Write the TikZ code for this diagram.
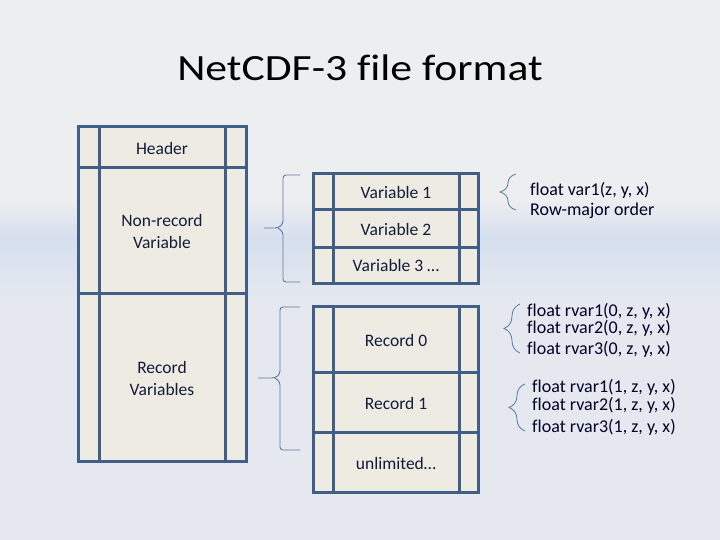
\documentclass[tikz,border=0pt]{standalone}
\usepackage{fontspec}
\setmainfont{Carlito}[Ligatures=NoCommon]
\newfontfamily\titlefont{Carlito}[FakeStretch=1.18, Ligatures=NoCommon]
\usetikzlibrary{decorations.pathreplacing}
\definecolor{bgA}{RGB}{237,238,240}
\definecolor{bgB}{RGB}{214,223,238}
\definecolor{bgC}{RGB}{229,233,239}
\definecolor{boxline}{RGB}{64,94,134}
\definecolor{boxfill}{RGB}{238,236,226}
\definecolor{txt}{RGB}{18,28,58}
\definecolor{bracec}{RGB}{92,122,162}
\tikzset{
  frame/.style={draw=boxline, line width=3pt, fill=boxfill},
  sep/.style={draw=boxline, line width=3pt},
  lbl/.style={text=txt, font=\fontsize{17.5}{22}\selectfont, align=center, inner sep=0pt},
  note/.style={text=black!85!blue, font=\fontsize{18}{21}\selectfont, anchor=west, inner sep=0pt},
  bigbrace/.style={draw=bracec, line width=0.9pt, rounded corners=3pt},
  smallbrace/.style={draw=bracec, line width=0.8pt, decorate, decoration={brace, amplitude=16pt, raise=0pt}},
}
\begin{document}
\begin{tikzpicture}[x=1pt,y=-1pt]
\useasboundingbox (0,0) rectangle (720,540);
% background
\fill[bgA] (0,0) rectangle (720,200);
\shade[top color=bgA, bottom color=bgB] (0,200) rectangle (720,238);
\shade[top color=bgB, bottom color=bgC] (0,238) rectangle (720,300);
\fill[bgC] (0,300) rectangle (720,540);
% title
\node[font=\titlefont\fontsize{37}{40}\selectfont, text=black, inner sep=0pt] (title) at (360,68) {NetCDF-3 file format};
% left box
\path[frame] (78,127) rectangle (246,461);
\draw[sep] (99,127) -- (99,461);
\draw[sep] (225,127) -- (225,461);
\draw[sep] (78,168) -- (246,168);
\draw[sep] (78,293) -- (246,293);
\node[lbl] (header) at (162,148) {Header};
\node[lbl] (nonrec) at (162,231) {Non-record\\Variable};
\node[lbl] (recvars) at (162,378) {Record\\Variables};
% variable box
\path[frame] (313,174) rectangle (478,283);
\draw[sep] (333,174) -- (333,283);
\draw[sep] (459,174) -- (459,283);
\draw[sep] (313,210) -- (478,210);
\draw[sep] (313,247) -- (478,247);
\node[lbl] (v1) at (396,192) {Variable 1};
\node[lbl] (v2) at (396,229) {Variable 2};
\node[lbl] (v3) at (396,265) {Variable 3 \ldots};
% record box
\path[frame] (313,306) rectangle (478,492);
\draw[sep] (333,306) -- (333,492);
\draw[sep] (459,306) -- (459,492);
\draw[sep] (313,372) -- (478,372);
\draw[sep] (313,432) -- (478,432);
\node[lbl] (r0) at (396,340) {Record 0};
\node[lbl] (r1) at (396,403) {Record 1};
\node[lbl] (unl) at (396,463) {unlimited\ldots};
% big braces
\coordinate (b1t) at (300,175);
\coordinate (b1b) at (300,282);
\coordinate (b1m) at (264,228);
\draw[bigbrace] (b1t) -- (283,175) -- (283,224) -- (278,228) -- (b1m);
\draw[bigbrace] (b1b) -- (283,282) -- (283,232) -- (278,228);
\coordinate (b2t) at (300,307);
\coordinate (b2b) at (300,450);
\coordinate (b2m) at (258,378);
\draw[bigbrace] (b2t) -- (280,307) -- (280,374) -- (275,378) -- (b2m);
\draw[bigbrace] (b2b) -- (280,450) -- (280,382) -- (275,378);
% small braces
\coordinate (s1b) at (516,210);
\coordinate (s1t) at (516,174);
\draw[smallbrace] (s1b) -- (s1t);
\coordinate (s2b) at (520,353);
\coordinate (s2t) at (520,304);
\draw[smallbrace] (s2b) -- (s2t);
\coordinate (s3b) at (525,431);
\coordinate (s3t) at (525,384);
\draw[smallbrace] (s3b) -- (s3t);
% notes
\node[note] (n1) at (530,190) {float var1(z, y, x)};
\node[note] (n2) at (530,211) {Row-major order};
\node[note] (n3) at (527,311) {float rvar1(0, z, y, x)};
\node[note] (n4) at (527,328) {float rvar2(0, z, y, x)};
\node[note] (n5) at (527,349) {float rvar3(0, z, y, x)};
\node[note] (n6) at (532,387) {float rvar1(1, z, y, x)};
\node[note] (n7) at (532,405) {float rvar2(1, z, y, x)};
\node[note] (n8) at (532,427) {float rvar3(1, z, y, x)};
\end{tikzpicture}
\end{document}
